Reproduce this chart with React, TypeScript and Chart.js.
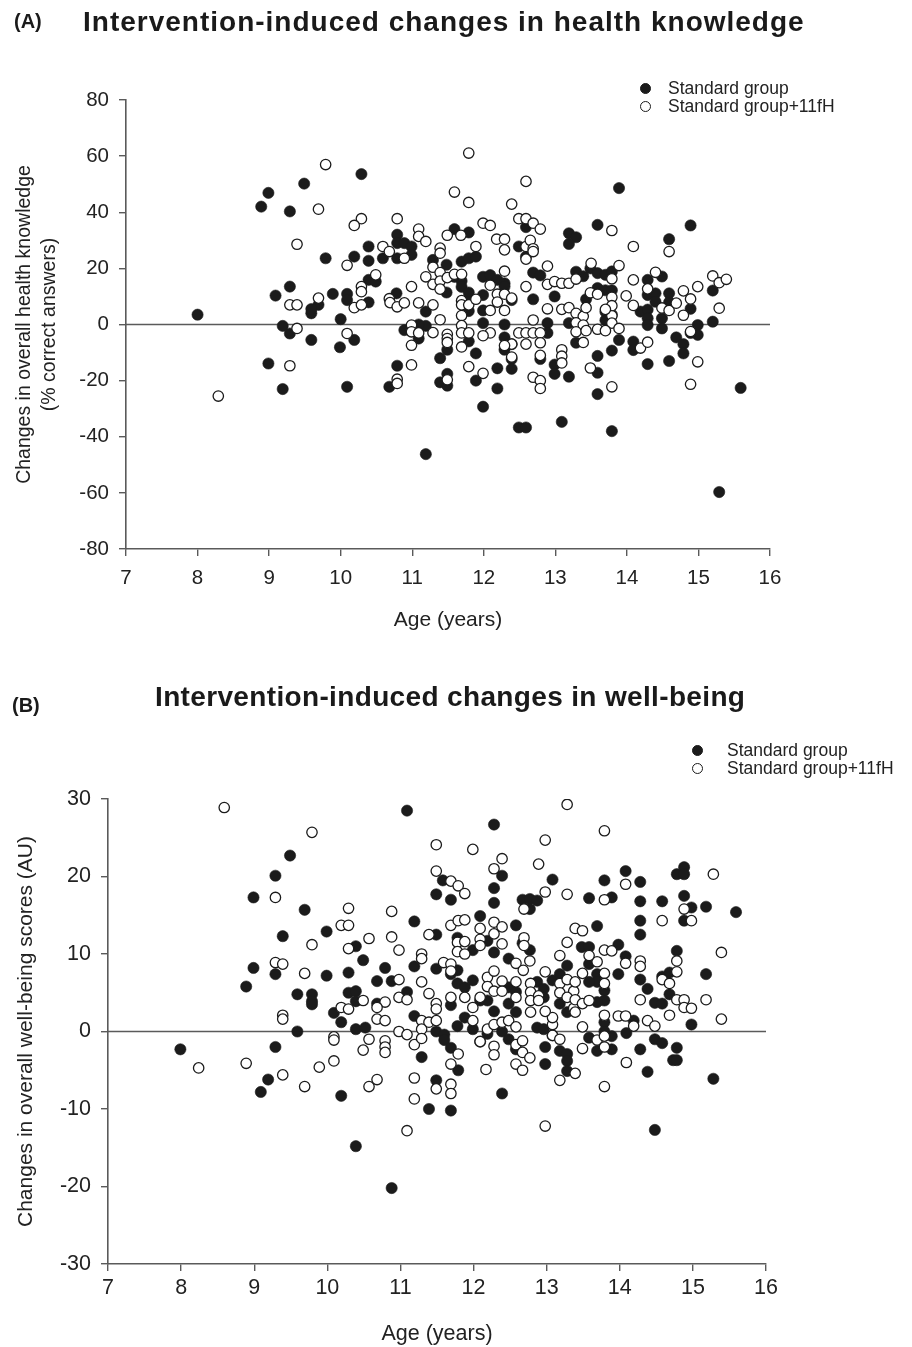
import React, { useEffect, useRef } from "react";
import { Chart, registerables } from "chart.js";

Chart.register(...registerables);

const FONT = "'Liberation Sans', Arial, Helvetica, sans-serif";
const INK = "#1b1b1b";
const AXIS = "#5a5a5a";

// ---------- shared axis data ----------
const ageTicks = [7, 8, 9, 10, 11, 12, 13, 14, 15, 16];
const knowledgeTicks = [-80, -60, -40, -20, 0, 20, 40, 60, 80];
const wellbeingTicks = [-30, -20, -10, 0, 10, 20, 30];
const legendLabels = ["Standard group", "Standard group+11fH"];

// ---------- Panel A: health knowledge (age, % change) ----------
const knowledgeStandard: [number, number][] = [
  [8.0, 3.5], [8.99, 46.9], [8.89, 42], [9.49, 50.2], [9.29, 40.3], [10.29, 53.6], [9.79, 23.6], [10.39, 27.8],
  [10.19, 24.2], [10.39, 22.7], [10.59, 23.6], [9.29, 13.5], [9.09, 10.3], [9.89, 10.9], [10.09, 10.9], [10.09, 8.7],
  [9.69, 7.0], [9.59, 4.0], [9.59, 5.5], [10.39, 7.9], [10.39, 15.9], [10.49, 15.3], [10.0, 1.9], [9.19, -0.5],
  [9.29, -3.2], [9.59, -5.5], [9.99, -8.1], [10.19, -5.5], [8.99, -13.9], [9.19, -23], [10.09, -22.2], [10.68, -22.2],
  [10.79, 32], [10.79, 29], [10.89, 29], [10.99, 27.8], [10.99, 24.8], [10.79, 23.6], [10.78, 11.1], [10.79, -14.7],
  [10.89, -2], [11.19, 4.6], [11.19, -0.5], [11.09, 0], [11.09, -5], [11.29, 23], [11.48, 21.3], [11.48, 11.4],
  [11.39, -12], [11.49, -9], [11.39, -20.6], [11.49, -17.6], [11.49, -21.8], [11.19, -46.2], [11.59, 34], [11.79, 32.8],
  [11.69, 22.4], [11.79, 23.6], [11.89, 24.2], [11.59, 17], [11.69, 15.5], [11.69, 13.4], [11.79, 11.4], [11.79, 8],
  [11.79, 4.8], [11.89, -10.3], [11.79, -6], [11.89, -20], [11.99, -29.3], [11.99, 17], [12.09, 17.6], [11.99, 10.5],
  [11.99, 5], [11.99, 0.5], [12.19, 15.9], [12.29, 14.7], [12.29, 13.5], [12.39, 8.7], [12.29, 0], [12.29, -4.6],
  [12.39, -7], [12.29, -9], [12.19, -15.6], [12.39, -12.3], [12.39, -15.8], [12.19, -22.8], [12.49, -36.7], [12.59, -36.7],
  [12.59, 34.7], [12.49, 27.8], [12.59, 24.2], [12.69, 18.5], [12.79, 17.5], [12.69, 9], [12.89, 0.5], [12.89, -3],
  [12.79, -12.3], [12.99, -14.3], [12.99, -17.6], [13.09, -34.7], [13.19, 32.5], [13.29, 31.1], [13.19, 28.7], [13.29, 18.8],
  [13.39, 17.2], [12.99, 10], [13.19, 0.5], [13.29, -6.5], [13.19, -18.6],
  [13.89, 48.6], [13.59, 35.5], [14.89, 35.3], [14.59, 30.4], [13.49, 20], [13.59, 18.3], [13.7, 17.7], [13.79, 18.9],
  [13.59, 13], [13.7, 12.2], [13.79, 12.2], [13.43, 9], [13.7, 4.5], [13.7, 1.5], [13.79, 3.5], [13.89, -5.5],
  [13.79, -9.3], [13.59, -11.2], [13.59, -17.2], [13.59, -24.8], [13.79, -38], [14.29, 15.9], [14.29, 10.5], [14.4, 11.1],
  [14.4, 8.1], [14.49, 17.1], [14.19, 4.6], [14.29, 5.3], [14.29, 2.2], [14.29, -0.2], [14.49, 2.2], [14.49, -1.4],
  [14.09, -6.1], [14.09, -9.1], [14.29, -14.1], [14.59, 11.1], [14.59, 7.9], [14.59, -13], [14.69, -4.6], [14.79, -7],
  [14.79, -10.3], [14.89, 5.6], [14.99, -0.2], [14.99, -3.7], [14.89, -3], [15.2, 12.1], [15.2, 1.0], [15.29, -59.7],
  [15.59, -22.6],
];

const knowledge11fH: [number, number][] = [
  [8.29, -25.5], [9.79, 57], [9.69, 41.1], [10.29, 37.7], [10.19, 35.3], [9.39, 28.6], [10.59, 27.8], [10.68, 26],
  [10.09, 21.1], [10.49, 17.7], [10.29, 13.5], [10.29, 11.7], [9.69, 9.4], [9.29, 7.0], [9.39, 7.0], [10.19, 6.0],
  [10.29, 7.0], [10.68, 9.2], [9.39, -1.4], [10.09, -3.2], [9.29, -14.7],
  [11.79, 61.1], [12.59, 51], [11.59, 47.2], [11.79, 43.5], [12.39, 42.9], [10.79, 37.7], [12.49, 37.7], [11.99, 36.1],
  [12.09, 35.3], [12.59, 37.7], [12.69, 36.1], [12.79, 34], [11.09, 34], [11.09, 31.4], [11.19, 29.6], [11.49, 31.8],
  [11.68, 31.8], [12.18, 30.4], [12.29, 30.4], [12.29, 26.6], [11.89, 27.8], [12.59, 27.8], [12.59, 23.3], [12.65, 30],
  [12.69, 27], [12.69, 26], [10.89, 23.6], [11.39, 27.2], [11.39, 25.4],
  [11.29, 20.4], [11.39, 18.5], [11.19, 17], [11.29, 14.3], [11.39, 15.5], [11.49, 16.7], [11.59, 17.9], [11.69, 17.9],
  [10.69, 7.8], [10.79, 6.3], [10.89, 7.7], [10.99, 13.5], [11.09, 7.7], [10.99, -0.2], [10.99, -2.6], [10.99, -7.4],
  [10.79, -19.5], [10.79, -21], [10.99, -14.4], [11.09, -3],
  [11.29, -2.9], [11.39, 1.7], [11.49, -3.5], [11.49, -5], [11.49, -6.4], [11.29, 7], [11.39, 12.6], [11.49, -19.7],
  [11.69, 8.5], [11.69, 7], [11.69, 3.2], [11.69, -0.4], [11.69, -3], [11.69, -8], [11.79, 7], [11.79, -3],
  [11.79, -15], [11.89, 9], [11.99, -17.4],
  [12.09, 14], [12.09, 5], [12.19, 10.8], [12.19, 8], [12.29, 19], [12.29, 10.8], [12.29, 5], [12.09, -3],
  [11.99, -4], [12.39, 9.4], [12.39, -7], [12.39, -11.6], [12.29, -7.5],
  [12.59, 13.5], [12.69, 1.6], [12.49, -3], [12.59, -3], [12.69, -3], [12.79, -3], [12.59, -7], [12.79, -6.5],
  [12.79, -11], [12.69, -18.8], [12.79, -20], [12.79, -22.8], [12.89, 5.6], [12.89, 20.8], [12.89, 14.3], [12.99, 15.3],
  [13.09, 14.7], [13.19, 14.7], [13.29, 16.2], [13.09, 5.4], [13.19, 6], [13.29, 4.0], [13.39, 2.9], [13.29, 0.6],
  [13.39, -0.2], [13.29, -2.6], [13.39, -6.4], [13.09, -9], [13.09, -11.3], [13.09, -13.7], [13.5, 21.8],
  [13.79, 33.5], [14.09, 27.8], [14.59, 26], [13.89, 21], [14.4, 18.6], [14.09, 15.9], [13.79, 16.3], [14.29, 12.7],
  [13.99, 10.2], [13.49, 11.3], [13.59, 10.8], [13.79, 9.7], [13.79, 6.7], [13.79, 3.1], [13.79, 0.5], [13.7, 5.4],
  [13.43, 6], [13.43, -2.2], [13.59, -1.7], [13.7, -2.2], [13.89, -1.4], [14.09, 6.8], [14.49, 5.9], [14.59, 5],
  [14.69, 7.6], [14.79, 12], [14.79, 3.3], [14.89, 9.1], [14.99, 13.5], [15.2, 17.3], [15.29, 14.9], [15.39, 16.1],
  [15.29, 5.8], [14.89, -2.5], [14.19, -8.4], [14.29, -6.3], [13.49, -15.5], [13.79, -22.2], [14.99, -13.3], [14.89, -21.3],
];

// ---------- Panel B: well-being (age, AU change) ----------
const wellbeingStandard: [number, number][] = [
  [7.99, -2.3], [9.49, 22.7], [9.29, 20.1], [8.99, 17.3], [9.69, 15.7], [9.39, 12.3], [9.99, 12.9], [8.99, 8.2],
  [9.29, 7.4], [8.89, 5.8], [9.59, 4.8], [9.79, 4.8], [9.79, 3.9], [9.79, 3.5], [9.99, 7.2], [10.29, 7.6],
  [10.39, 11], [10.49, 9.2], [10.29, 5], [10.39, 5.2], [10.39, 3.9], [10.09, 2.4], [10.19, 1.2], [9.59, 0],
  [10.39, 0.3], [10.52, 0.5], [9.29, -2], [9.19, -6.2], [9.09, -7.8], [10.19, -8.3], [10.39, -14.8],
  [11.09, 28.5], [12.28, 26.7], [12.39, 20.1], [12.28, 18.5], [12.28, 16.6], [13.08, 19.6], [12.67, 17], [12.77, 17.1],
  [12.87, 16.9], [12.77, 15.8], [11.58, 19.5], [11.49, 17.7], [11.69, 17.0], [11.19, 14.2], [12.09, 14.9], [12.58, 13.7],
  [11.49, 12.5], [11.78, 12.1], [12.19, 11.7], [12.28, 10.2], [11.99, 10.5], [12.48, 9.4], [12.67, 11.4], [12.77, 10.5],
  [10.79, 8.2], [10.68, 6.5], [10.88, 6.5], [11.19, 8.4], [11.49, 8.1], [11.69, 7.4], [11.78, 7.9], [11.78, 6.2],
  [11.88, 5.7], [11.99, 6.6], [11.09, 5.1], [10.68, 3.6], [11.69, 3.4], [12.09, 4.0], [12.19, 4.0], [12.48, 5.7],
  [12.58, 5.1], [12.48, 3.6], [12.58, 2.5], [12.87, 6.4], [12.96, 5.5], [12.96, 4.4], [13.08, 6.6], [13.18, 7.4],
  [13.28, 8.5], [13.18, 3.6], [13.28, 2.5], [12.28, 2.6], [11.19, 2.0], [11.49, 0], [11.6, -0.4], [11.6, -1.1],
  [11.78, 0.7], [11.88, 1.8], [11.99, 0.3], [12.09, -1.3], [12.19, -0.3], [12.39, 0], [12.48, -1], [12.58, -2.3],
  [12.87, 0.5], [12.96, 0.3], [13.08, -0.5], [13.18, -2.5], [13.28, -2.9], [13.28, -3.8], [13.28, -5.1], [12.98, -2.0],
  [12.98, -4.2], [11.69, -2.1], [11.79, -5.0], [11.29, -3.3], [11.49, -6.3], [12.39, -8.0], [11.39, -10], [11.69, -10.2],
  [10.88, -20.2],
  [14.08, 20.7], [13.79, 19.5], [14.28, 19.3], [14.88, 21.2], [14.78, 20.3], [14.88, 20.3], [13.58, 17.2], [13.89, 17.3],
  [14.28, 16.8], [14.58, 16.8], [14.88, 17.5], [14.98, 16.0], [15.18, 16.1], [15.59, 15.4], [14.28, 14.3], [14.28, 12.5],
  [14.88, 14.3], [13.69, 13.6], [13.98, 11.2], [14.08, 9.7], [13.48, 10.9], [13.58, 10.9], [13.58, 8.7], [13.69, 7.4],
  [13.69, 6.4], [13.58, 6.4], [13.79, 5.3], [13.79, 4.0], [13.69, 3.8], [13.98, 7.4], [14.78, 10.4], [15.18, 7.4],
  [14.28, 6.7], [14.38, 5.5], [14.58, 7.1], [14.68, 7.6], [14.68, 4.8], [14.48, 3.7], [14.58, 3.6], [14.98, 0.9],
  [14.19, 1.4], [14.09, -0.2], [13.79, 1.2], [13.79, 0], [13.89, -0.6], [13.89, -2.3], [13.58, -0.8], [13.69, -2.5],
  [14.48, -1], [14.58, -1.5], [14.28, -2.3], [14.78, -2.1], [14.73, -3.7], [14.78, -3.7], [14.38, -5.2], [15.28, -6.1],
  [14.48, -12.7],
];

const wellbeing11fH: [number, number][] = [
  [8.59, 28.9], [9.79, 25.7], [9.29, 17.3], [10.29, 15.9], [10.19, 13.7], [10.29, 13.7], [10.57, 12], [9.79, 11.2],
  [10.29, 10.7], [9.29, 8.9], [9.39, 8.7], [9.69, 7.5], [10.19, 3.1], [10.29, 2.9], [10.49, 4.0], [9.39, 2.1],
  [9.39, 1.6], [10.09, -0.7], [10.09, -1.1], [10.57, -1], [10.49, -2.4], [10.09, -3.8], [8.89, -4.1], [8.24, -4.7],
  [9.89, -4.6], [9.39, -5.6], [9.69, -7.1], [10.57, -7.1],
  [13.28, 29.3], [11.49, 24.1], [11.99, 23.5], [12.98, 24.7], [12.39, 22.3], [12.28, 21], [12.89, 21.6], [11.49, 20.7],
  [11.69, 19.4], [11.79, 18.8], [11.88, 17.8], [12.98, 18], [13.28, 17.7], [12.69, 15.8], [10.88, 15.5], [11.69, 13.7],
  [11.79, 14.3], [11.88, 14.4], [12.09, 13.3], [12.28, 14.1], [12.39, 13.5], [12.28, 12.6], [11.39, 12.5], [10.88, 12.2],
  [10.98, 10.5], [11.78, 11.5], [11.88, 11.6], [11.78, 10.3], [11.88, 10], [12.09, 11.9], [12.09, 11.1], [12.39, 11.3],
  [12.69, 12.1], [12.69, 11.1], [12.77, 9.1], [12.58, 8.8], [13.18, 9.8], [13.28, 11.5], [12.98, 7.7], [11.29, 10],
  [11.29, 9.4], [11.59, 8.9], [11.69, 8.7], [11.69, 7.8], [10.98, 6.7], [11.29, 6.4], [12.19, 7.0], [12.28, 7.8],
  [12.39, 6.5], [12.19, 5.8], [12.28, 5.2], [12.39, 5.2], [12.58, 6.4], [12.58, 4.4], [12.68, 7.9], [12.78, 6.2],
  [12.78, 5.1], [12.78, 4.0], [12.78, 2.5], [12.89, 4.6], [12.89, 4.0], [13.18, 6.2], [13.28, 6.7], [13.37, 5.2],
  [13.18, 5.0], [13.37, 3.0], [13.28, 4.4], [11.39, 4.9], [11.49, 3.6], [11.49, 2.9], [10.98, 4.4], [11.09, 4.1],
  [10.79, 3.8], [10.68, 3.1], [11.69, 4.4], [11.88, 4.4], [11.99, 3.1], [12.09, 4.4], [10.68, 1.6], [10.79, 1.4],
  [11.29, 1.4], [11.39, 1.2], [11.29, 0.3], [11.49, 1.4], [10.98, 0], [11.09, -0.4], [11.19, -1.7], [11.29, -0.9],
  [10.79, -1.2], [10.79, -2.0], [10.79, -2.7], [11.79, -2.9], [11.69, -4.2], [11.99, 1.4], [12.19, 0.3], [12.28, 0.9],
  [12.39, 1.2], [12.48, 1.4], [12.58, 0.6], [12.09, -1.3], [12.28, -1.9], [12.28, -3.0], [12.58, -1.7], [12.58, -4.2],
  [12.67, -1.2], [12.67, -2.7], [12.77, -3.4], [12.67, -5.0], [12.17, -4.9], [11.19, -6.0], [10.68, -6.2], [11.19, -8.7],
  [11.49, -7.4], [11.69, -6.8], [11.69, -8.0], [13.08, -0.5], [13.18, -1.0], [13.08, 0.9], [13.08, 1.8], [12.98, 2.6],
  [13.18, -6.3], [11.09, -12.8], [12.98, -12.2],
  [13.79, 25.9], [15.28, 20.3], [14.08, 19.0], [13.79, 17.0], [14.88, 15.8], [14.98, 14.3], [14.58, 14.3], [13.39, 13.3],
  [13.49, 13.0], [15.39, 10.2], [13.79, 10.5], [13.89, 10.4], [13.69, 9.0], [13.58, 9.8], [14.08, 8.8], [14.28, 9.1],
  [14.28, 8.4], [14.78, 9.1], [14.78, 7.7], [14.58, 6.7], [14.68, 6.2], [13.49, 7.5], [13.39, 6.4], [13.79, 7.5],
  [13.79, 6.2], [13.39, 4.1], [13.49, 3.6], [13.58, 4.0], [13.39, 2.5], [14.28, 4.1], [14.78, 4.1], [14.88, 4.1],
  [14.88, 3.1], [14.98, 3.0], [15.18, 4.1], [15.39, 1.6], [14.68, 2.1], [13.79, 2.1], [13.98, 2.0], [14.08, 2.0],
  [14.19, 0.7], [14.38, 1.4], [14.48, 0.7], [13.49, 0.6], [13.69, -1.1], [13.79, -0.6], [13.79, -2.0], [13.49, -2.2],
  [13.39, -5.4], [14.09, -4.0], [13.79, -7.1],
];

type PanelSpec = {
  height: number;
  standard: [number, number][];
  extra: [number, number][];
  yTicks: number[];
  yTitle: string | string[];
  yTitleSize: number;
  yTitleLineHeight: number;
  yTitlePad: number;
  tickSize: number;
  xTitleSize: number;
  xTitlePad: number;
  xTickPad: number;
  left: number;
  right: number;
  top: number;
  xAxisHeight: number;
};

function buildConfig(p: PanelSpec): any {
  const xMin = ageTicks[0];
  const xMax = ageTicks[ageTicks.length - 1];
  const yMin = p.yTicks[0];
  const yMax = p.yTicks[p.yTicks.length - 1];
  return {
    type: "scatter",
    data: {
      datasets: [
        {
          type: "line",
          label: "zero",
          data: [{ x: xMin, y: 0 }, { x: xMax, y: 0 }],
          borderColor: AXIS,
          borderWidth: 1.4,
          pointRadius: 0,
          order: 3,
        },
        {
          label: legendLabels[0],
          data: p.standard.map(([x, y]) => ({ x, y })),
          pointRadius: 5.6,
          backgroundColor: INK,
          borderColor: INK,
          borderWidth: 0.6,
          order: 2,
        },
        {
          label: legendLabels[1],
          data: p.extra.map(([x, y]) => ({ x, y })),
          pointRadius: 5.2,
          backgroundColor: "#ffffff",
          borderColor: INK,
          borderWidth: 1.3,
          order: 1,
        },
      ],
    },
    options: {
      responsive: false,
      maintainAspectRatio: false,
      animation: false,
      devicePixelRatio: 1,
      events: [],
      layout: { padding: { left: 0, right: 912 - p.right, top: p.top, bottom: 0 } },
      plugins: { legend: { display: false }, tooltip: { enabled: false }, title: { display: false } },
      scales: {
        x: {
          type: "linear",
          min: xMin,
          max: xMax,
          afterBuildTicks: (s: any) => {
            s.ticks = ageTicks.map((v) => ({ value: v }));
          },
          afterFit: (s: any) => {
            s.height = p.xAxisHeight;
          },
          grid: { drawOnChartArea: false, drawTicks: true, tickLength: 7, color: AXIS, lineWidth: 1.4 },
          border: { display: true, color: AXIS, width: 1.6 },
          ticks: {
            font: { family: FONT, size: p.tickSize },
            color: "#222",
            padding: p.xTickPad,
            maxRotation: 0,
            autoSkip: false,
          },
          title: {
            display: true,
            text: "Age (years)",
            font: { family: FONT, size: p.xTitleSize },
            color: "#222",
            padding: { top: 0, bottom: p.xTitlePad },
          },
        },
        y: {
          type: "linear",
          min: yMin,
          max: yMax,
          afterBuildTicks: (s: any) => {
            s.ticks = p.yTicks.map((v) => ({ value: v }));
          },
          afterFit: (s: any) => {
            s.width = p.left;
          },
          grid: { drawOnChartArea: false, drawTicks: true, tickLength: 7, color: AXIS, lineWidth: 1.4 },
          border: { display: true, color: AXIS, width: 1.6 },
          ticks: {
            font: { family: FONT, size: p.tickSize },
            color: "#222",
            padding: 10,
            autoSkip: false,
          },
          title: {
            display: true,
            text: p.yTitle,
            font: { family: FONT, size: p.yTitleSize, lineHeight: p.yTitleLineHeight },
            color: "#222",
            padding: { top: p.yTitlePad, bottom: 0 },
          },
        },
      },
    },
  };
}

function ScatterPanel({ spec, top }: { spec: PanelSpec; top: number }) {
  const ref = useRef<HTMLCanvasElement | null>(null);
  useEffect(() => {
    if (!ref.current) return;
    const chart = new Chart(ref.current, buildConfig(spec));
    return () => chart.destroy();
  }, [spec]);
  return (
    <canvas
      ref={ref}
      width={912}
      height={spec.height}
      style={{ position: "absolute", left: 0, top, width: 912, height: spec.height }}
    />
  );
}

const panelA: PanelSpec = {
  height: 650,
  standard: knowledgeStandard,
  extra: knowledge11fH,
  yTicks: knowledgeTicks,
  yTitle: ["Changes in overall health knowledge", "(% correct answers)"],
  yTitleSize: 19.5,
  yTitleLineHeight: 1.28,
  yTitlePad: 12,
  tickSize: 20.5,
  xTitleSize: 21,
  xTitlePad: 17,
  xTickPad: 10,
  left: 126,
  right: 770,
  top: 100,
  xAxisHeight: 650 - 549,
};

const panelB: PanelSpec = {
  height: 697,
  standard: wellbeingStandard,
  extra: wellbeing11fH,
  yTicks: wellbeingTicks,
  yTitle: "Changes in overall well-being scores (AU)",
  yTitleSize: 21,
  yTitleLineHeight: 1.2,
  yTitlePad: 14,
  tickSize: 21.5,
  xTitleSize: 21.5,
  xTitlePad: 0,
  xTickPad: 4,
  left: 108,
  right: 766,
  top: 149,
  xAxisHeight: 697 - 614,
};

function Legend({ markerX, textX, y }: { markerX: number; textX: number; y: number }) {
  const rows = [
    { label: legendLabels[0], filled: true },
    { label: legendLabels[1], filled: false },
  ];
  return (
    <>
      {rows.map((r, i) => (
        <React.Fragment key={r.label}>
          <span
            style={{
              position: "absolute",
              left: markerX - 5.5,
              top: y + i * 18 - 5.5,
              width: 11,
              height: 11,
              boxSizing: "border-box",
              borderRadius: "50%",
              background: r.filled ? INK : "#fff",
              border: `1.3px solid ${INK}`,
            }}
          />
          <div
            style={{
              position: "absolute",
              left: textX,
              top: y + i * 18 - 10,
              fontFamily: FONT,
              fontSize: 17.5,
              lineHeight: "20px",
              color: "#222",
              whiteSpace: "nowrap",
            }}
          >
            {r.label}
          </div>
        </React.Fragment>
      ))}
    </>
  );
}

const headStyle: React.CSSProperties = {
  position: "absolute",
  fontFamily: FONT,
  fontWeight: "bold",
  lineHeight: 1,
  color: "#1a1a1a",
  whiteSpace: "nowrap",
};

export default function App() {
  return (
    <div style={{ position: "absolute", left: 0, top: 0, width: 912, height: 1347, background: "#fff", overflow: "hidden" }}>
      <ScatterPanel spec={panelA} top={0} />
      <ScatterPanel spec={panelB} top={650} />
      <div style={{ ...headStyle, left: 14, top: 11, fontSize: 20 }}>(A)</div>
      <div style={{ ...headStyle, left: 83, top: 8, fontSize: 28, letterSpacing: 1 }}>
        Intervention-induced changes in health knowledge
      </div>
      <div style={{ ...headStyle, left: 12, top: 695, fontSize: 20 }}>(B)</div>
      <div style={{ ...headStyle, left: 155, top: 683, fontSize: 28, letterSpacing: 0.35 }}>
        Intervention-induced changes in well-being
      </div>
      <Legend markerX={645} textX={668} y={88} />
      <Legend markerX={697} textX={727} y={750} />
    </div>
  );
}
